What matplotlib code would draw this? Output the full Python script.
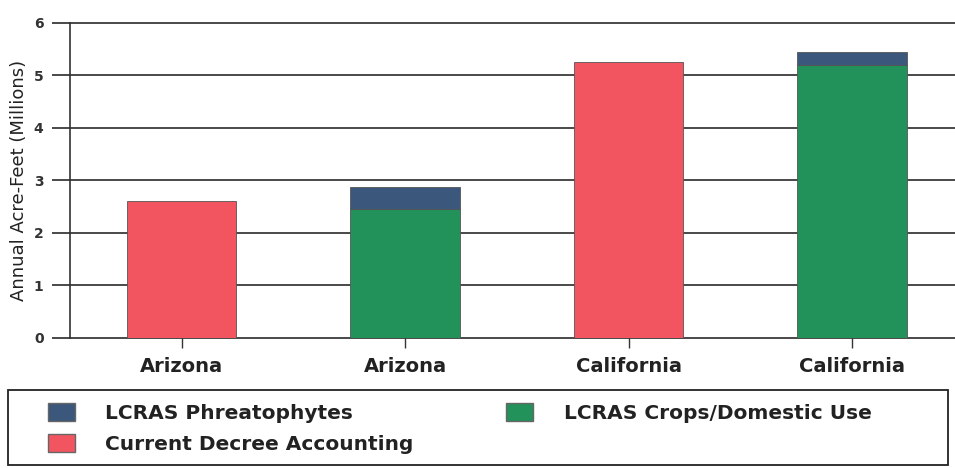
import matplotlib.pyplot as plt
from matplotlib.patches import Patch, Rectangle

# values (millions of acre-feet)
states = ["Arizona", "Arizona", "California", "California"]
decree = [2.6, 0.0, 5.25, 0.0]
crops = [0.0, 2.45, 0.0, 5.2]
phreato = [0.0, 0.43, 0.0, 0.25]

c_red = "#f2555f"
c_green = "#22915a"
c_blue = "#3b587c"

fig = plt.figure(figsize=(9.55, 4.68), dpi=100)
ax = fig.add_axes([0.0733, 0.278, 0.9267, 0.673])

x = list(range(len(states)))
w = 0.49
ax.bar(x, decree, w, color=c_red, edgecolor="#555555", linewidth=0.6, zorder=3)
ax.bar(x, crops, w, color=c_green, edgecolor="#555555", linewidth=0.6, zorder=3)
ax.bar(x, phreato, w, bottom=crops, color=c_blue, edgecolor="#555555", linewidth=0.6, zorder=3)

ax.set_xlim(-0.5, 3.46)
ax.set_ylim(0, 6)
ax.set_yticks(range(7))
ax.grid(axis="y", color="#2a2a2a", linewidth=1.2, zorder=0)
ax.set_axisbelow(True)
for gl in ax.get_ygridlines():
    gl.set_clip_on(False)
for s in ["top", "right", "bottom"]:
    ax.spines[s].set_visible(False)
ax.spines["left"].set_color("#333333")
ax.spines["left"].set_linewidth(1.2)

ax.tick_params(axis="y", length=13, width=1.2, color="#2a2a2a", pad=6, labelsize=10)
for lab in ax.get_yticklabels():
    lab.set_fontweight("bold")
    lab.set_color("#333333")
ax.set_xticks(x)
ax.set_xticklabels(states, fontsize=14, fontweight="bold", color="#222222")
ax.tick_params(axis="x", length=7, width=1.0, color="#333333", pad=7)

ax.set_ylabel("Annual Acre-Feet (Millions)", fontsize=13, color="#222222", labelpad=4)

# legend box drawn separately so it spans the page width
fig.patches.append(Rectangle((0.0084, 0.0064), 0.984, 0.16, transform=fig.transFigure,
                             facecolor="white", edgecolor="#222222", linewidth=1.3))

handles = [
    Patch(facecolor=c_blue, edgecolor="#666666", label="LCRAS Phreatophytes"),
    Patch(facecolor=c_red, edgecolor="#666666", label="Current Decree Accounting"),
    Patch(facecolor=c_green, edgecolor="#666666", label="LCRAS Crops/Domestic Use"),
]
leg = fig.legend(handles=handles, ncol=2, loc="upper left",
                 bbox_to_anchor=(0.05, 0.138), frameon=False,
                 prop={"weight": "bold", "size": 14.5},
                 handlelength=1.35, handleheight=1.0, handletextpad=1.5,
                 labelspacing=0.55, borderpad=0, borderaxespad=0, columnspacing=4.6)
for t in leg.get_texts():
    t.set_color("#222222")

fig.savefig("out.png", dpi=100)
